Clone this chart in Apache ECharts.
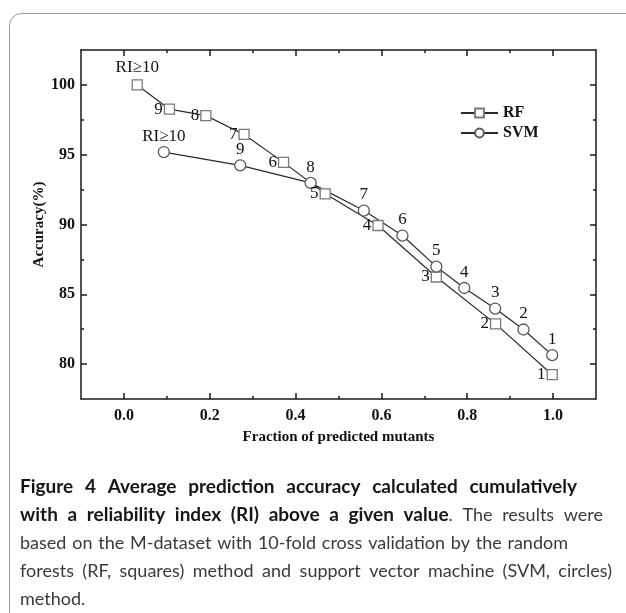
<!DOCTYPE html>
<html>
<head>
<meta charset="utf-8">
<script src="https://cdn.jsdelivr.net/npm/echarts@6/dist/echarts.min.js"></script>
<style>
html,body{margin:0;padding:0;background:#fff;}
#chart{width:626px;height:613px;}
</style>
</head>
<body>
<div id="chart"></div>
<script>
// values
var riLabels = ['RI\u226510','9','8','7','6','5','4','3','2','1'];
var rfFraction = [0.031,0.106,0.191,0.280,0.372,0.469,0.592,0.728,0.866,0.998];
var rfAccuracy = [100.0,98.26,97.8,96.45,94.45,92.2,89.93,86.24,82.88,79.24];
var svmFraction = [0.093,0.271,0.435,0.559,0.649,0.728,0.793,0.865,0.931,0.998];
var svmAccuracy = [95.19,94.24,92.98,91.0,89.21,86.98,85.45,83.98,82.48,80.64];

var xMajor = [0,0.2,0.4,0.6,0.8,1.0];
var xMinor = [0.1,0.3,0.5,0.7,0.9];
var yMajor = [80,85,90,95,100];
var yMinor = [82.5,87.5,92.5,97.5];

// caption lines: [text, bold, glued to previous word]
var captionLines = [
	{right:577, words:[['Figure',1],['4',1],['Average',1],['prediction',1],['accuracy',1],['calculated',1],['cumulatively',1]]},
	{right:603, words:[['with',1],['a',1],['reliability',1],['index',1],['(RI)',1],['above',1],['a',1],['given',1],['value',1],['.',0,1],['The',0],['results',0],['were',0]]},
	{right:568, words:[['based',0],['on',0],['the',0],['M-dataset',0],['with',0],['10-fold',0],['cross',0],['validation',0],['by',0],['the',0],['random',0]]},
	{right:612, words:[['forests',0],['(RF,',0],['squares)',0],['method',0],['and',0],['support',0],['vector',0],['machine',0],['(SVM,',0],['circles)',0]]},
	{right:0, words:[['method.',0]]}
];

var serif = 'Liberation Serif';
var axisColor = '#1a1a1a';
var boldFont = 'bold 19px Lato';
var normFont = '18px Lato';

var makeX = function(pos, ticks, len, showLine, showLabel){
	return {
		type:'value', position:pos, min:-0.1, max:1.1, gridIndex:0,
		splitLine:{show:false},
		axisLine:{show:showLine, onZero:false, lineStyle:{color:axisColor, width:1.5}},
		axisTick:{show:true, inside:true, length:len, customValues:ticks, lineStyle:{color:axisColor, width:1.5}},
		axisLabel:{show:showLabel, customValues:ticks, margin:9, color:'#111', fontFamily:serif, fontWeight:'bold', fontSize:16,
			formatter:function(v){ return v.toFixed(1); }}
	};
};
var makeY = function(pos, ticks, len, showLine, showLabel){
	return {
		type:'value', position:pos, min:77.5, max:102.5, gridIndex:0,
		splitLine:{show:false},
		axisLine:{show:showLine, onZero:false, lineStyle:{color:axisColor, width:1.5}},
		axisTick:{show:true, inside:true, length:len, customValues:ticks, lineStyle:{color:axisColor, width:1.5}},
		axisLabel:{show:showLabel, customValues:ticks, margin:6, color:'#111', fontFamily:serif, fontWeight:'bold', fontSize:16}
	};
};

var xAxes = [
	makeX('bottom', xMajor, 6, true, true),
	makeX('bottom', xMinor, 3, false, false),
	makeX('top', xMajor, 6, true, false),
	makeX('top', xMinor, 3, false, false)
];
xAxes[0].name = 'Fraction of predicted mutants';
xAxes[0].nameLocation = 'middle';
xAxes[0].nameGap = 31;
xAxes[0].nameMoveOverlap = false;
xAxes[0].nameTextStyle = {color:'#111', fontFamily:serif, fontWeight:'bold', fontSize:15};

var yAxes = [
	makeY('left', yMajor, 6, true, true),
	makeY('left', yMinor, 3, false, false),
	makeY('right', yMajor, 6, true, false),
	makeY('right', yMinor, 3, false, false)
];
yAxes[0].name = 'Accuracy(%)';
yAxes[0].nameLocation = 'middle';
yAxes[0].nameGap = 34;
yAxes[0].nameMoveOverlap = false;
yAxes[0].nameTextStyle = {color:'#111', fontFamily:serif, fontWeight:'bold', fontSize:15};

var rfData = [];
for(var i=0;i<rfFraction.length;i++){
	var item = {value:[rfFraction[i], rfAccuracy[i]]};
	if(i==0){ item.label = {position:'top', distance:3}; }
	rfData.push(item);
}
var svmData = [];
for(var i=0;i<svmFraction.length;i++){
	svmData.push({value:[svmFraction[i], svmAccuracy[i]]});
}

var labelStyle = {show:true, color:'#111', fontFamily:serif, fontSize:17,
	formatter:function(p){ return riLabels[p.dataIndex]; }};

// spread the caption words across each line like the printed figure
var ctx = document.createElement('canvas').getContext('2d');
var measure = function(t, font){ ctx.font = font; return ctx.measureText(t).width; };
var captionGraphics = [];
for(var l=0;l<captionLines.length;l++){
	var line = captionLines[l];
	var total = 0, gaps = 0;
	for(var w=0;w<line.words.length;w++){
		var wd = line.words[w];
		total += measure(wd[0], wd[1] ? boldFont : normFont);
		if(w>0 && !wd[2]) gaps++;
	}
	var space = measure(' ', normFont);
	var gap = space;
	if(line.right && gaps>0) gap = Math.max(space, (line.right - 20 - total)/gaps);
	var x = 20;
	for(var w=0;w<line.words.length;w++){
		var wd = line.words[w];
		var font = wd[1] ? boldFont : normFont;
		if(w>0 && !wd[2]) x += gap;
		captionGraphics.push({type:'text', x:x, y:487 + l*28, silent:true,
			style:{text:wd[0], font:font, fill:wd[1] ? '#161616' : '#3a3a3a', verticalAlign:'middle'}});
		x += measure(wd[0], font);
	}
}

var chart = echarts.init(document.getElementById('chart'));
chart.setOption({
	backgroundColor:'#fff',
	animation:false,
	grid:{left:81, top:50, right:30, bottom:214, containLabel:false},
	xAxis:xAxes,
	yAxis:yAxes,
	legend:{
		left:455, top:100, orient:'vertical', itemWidth:37, itemHeight:11, itemGap:4,
		data:['RF','SVM'],
		textStyle:{color:'#111', fontFamily:serif, fontSize:16, fontWeight:'bold'}
	},
	series:[
		{
			name:'RF', type:'line', xAxisIndex:0, yAxisIndex:0,
			data:rfData, symbol:'rect', symbolSize:10,
			lineStyle:{color:'#2a2a2a', width:1.2},
			itemStyle:{color:'#fff', borderColor:'#7a7a7a', borderWidth:1.3},
			label:Object.assign({}, labelStyle, {position:'left', distance:1}),
			emphasis:{disabled:true}
		},
		{
			name:'SVM', type:'line', xAxisIndex:0, yAxisIndex:0,
			data:svmData, symbol:'circle', symbolSize:11,
			lineStyle:{color:'#2a2a2a', width:1.2},
			itemStyle:{color:'#fff', borderColor:'#5a5a5a', borderWidth:1.3},
			label:Object.assign({}, labelStyle, {position:'top', distance:1}),
			emphasis:{disabled:true}
		}
	],
	graphic:[
		{type:'rect', silent:true, shape:{x:9.5, y:13.5, width:700, height:700, r:12},
			style:{fill:'none', stroke:'#9a9a9a', lineWidth:1}}
	].concat(captionGraphics)
});
</script>
</body>
</html>
